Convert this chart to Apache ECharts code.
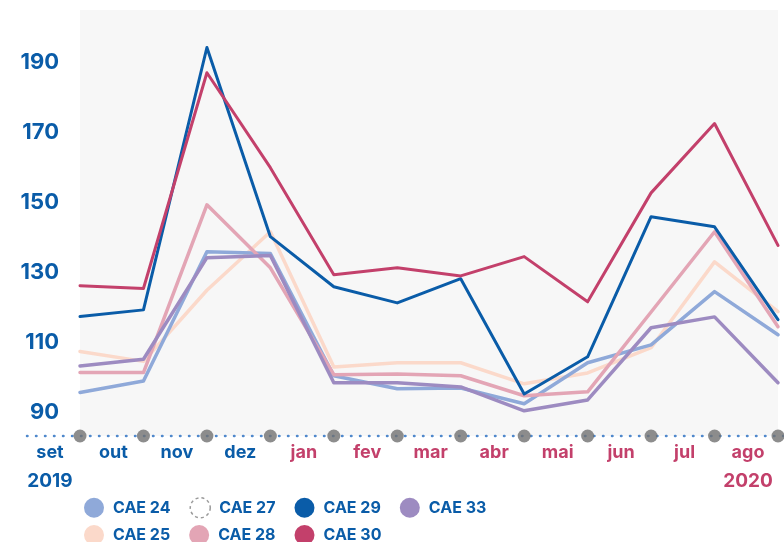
<!DOCTYPE html>
<html>
<head>
<meta charset="utf-8">
<script src="https://cdn.jsdelivr.net/npm/echarts@6/dist/echarts.min.js"></script>
<style>
html,body{margin:0;padding:0;background:#fff}
#chart{width:784px;height:542px}
</style>
</head>
<body>
<div id="chart"></div>
<script>
// dados (set 2019 - ago 2020)
var months = ['set','out','nov','dez','jan','fev','mar','abr','mai','jun','jul','ago'];
var yTicks = [90,110,130,150,170,190];
var cae24 = [95.8, 99.1, 136.0, 135.5, 100.6, 96.9, 97.1, 92.6, 104.3, 109.4, 124.6, 112.3];
var cae25 = [107.5, 104.7, 125.0, 141.7, 103.1, 104.3, 104.3, 98.3, 101.4, 108.6, 133.1, 118.9];
var cae27 = [];
var cae28 = [101.5, 101.5, 149.4, 131.4, 100.9, 101.1, 100.6, 94.9, 96.0, 118.8, 141.7, 114.6];
var cae29 = [117.5, 119.4, 194.3, 140.3, 126.0, 121.4, 128.3, 95.4, 106.0, 146.0, 143.1, 116.6];
var cae30 = [126.3, 125.5, 187.1, 160.0, 129.4, 131.4, 129.1, 134.6, 121.7, 152.8, 172.6, 137.8];
var cae33 = [103.4, 105.3, 134.3, 134.9, 98.6, 98.6, 97.4, 90.6, 93.7, 114.3, 117.4, 98.6];

var Y_MIN = 83.4, Y_MAX = 205;
var BLUE = '#0a5ca8', RED = '#c3406b';
var FONT = 'Inter';

var chart = echarts.init(document.getElementById('chart'));

function line(name, data, color, width, z){
  return {
    name: name, type: 'line', data: data, z: z,
    showSymbol: false, symbol: 'none',
    itemStyle: {color: color},
    lineStyle: {color: color, width: width, join: 'round', cap: 'round'}
  };
}

var legendText = {color: BLUE, fontSize: 16, fontWeight: 'bold', fontFamily: FONT};

var option = {
  animation: false,
  grid: {left: 80, right: 6, top: 10, bottom: 106, show: true, backgroundColor: '#f7f7f7', borderWidth: 0},
  xAxis: {
    type: 'category', data: months, boundaryGap: false,
    axisLine: {show: false}, axisTick: {show: false}, splitLine: {show: false},
    axisLabel: {
      interval: 0, margin: 5, padding: [0, 60, 0, 0],
      formatter: function(v, i){
        var s = i < 4 ? 'b' : 'r';
        var t = '{' + s + '|' + v + '}';
        if (i === 0) t += '\n{by|2019}';
        if (i === months.length - 1) t += '\n{ry|2020}';
        return t;
      },
      rich: {
        b: {color: BLUE, fontSize: 18, fontWeight: 'bold', fontFamily: FONT, lineHeight: 24},
        r: {color: RED, fontSize: 18, fontWeight: 'bold', fontFamily: FONT, lineHeight: 24},
        by: {color: BLUE, fontSize: 19, fontWeight: 'bold', fontFamily: FONT, lineHeight: 32},
        ry: {color: RED, fontSize: 19, fontWeight: 'bold', fontFamily: FONT, lineHeight: 32}
      }
    }
  },
  yAxis: {
    type: 'value', min: Y_MIN, max: Y_MAX,
    axisLine: {show: false}, axisTick: {show: false}, splitLine: {show: false},
    axisLabel: {customValues: yTicks, margin: 21, padding: [4, 0, 0, 0], color: BLUE, fontSize: 22, fontWeight: 'bold', fontFamily: FONT}
  },
  legend: [
    {left: 79, top: 492, icon: 'circle', itemWidth: 28, itemHeight: 20, itemGap: 19, textStyle: legendText,
     data: ['CAE 24', {name: 'CAE 27', itemStyle: {color: 'rgba(0,0,0,0)', borderColor: '#9a9a9a', borderWidth: 1.5, borderType: [3, 3]}}, 'CAE 29', 'CAE 33']},
    {left: 79, top: 520, icon: 'circle', itemWidth: 28, itemHeight: 20, itemGap: 19, textStyle: legendText,
     data: ['CAE 25', 'CAE 28', 'CAE 30']}
  ],
  graphic: [{
    type: 'line', z: 5, silent: true,
    shape: {x1: 27, y1: 436, x2: 784, y2: 436},
    style: {stroke: '#4f88cc', lineWidth: 2.5, lineDash: [0.5, 8.5], lineCap: 'round'}
  }],
  series: [
    line('CAE 25', cae25, '#fbd9ca', 3.5, 2),
    line('CAE 24', cae24, '#8fa9d9', 3.5, 3),
    line('CAE 28', cae28, '#e3a5b5', 3.5, 4),
    line('CAE 33', cae33, '#9d8bc1', 3.5, 5),
    line('CAE 27', cae27, '#9a9a9a', 2, 1),
    line('CAE 29', cae29, BLUE, 3, 6),
    line('CAE 30', cae30, RED, 3, 7),
    {
      name: 'pontos', type: 'scatter', z: 10, clip: false, silent: true,
      symbolSize: 13, itemStyle: {color: '#707070'},
      data: months.map(function(){ return Y_MIN; })
    }
  ]
};
chart.setOption(option);
</script>
</body>
</html>
